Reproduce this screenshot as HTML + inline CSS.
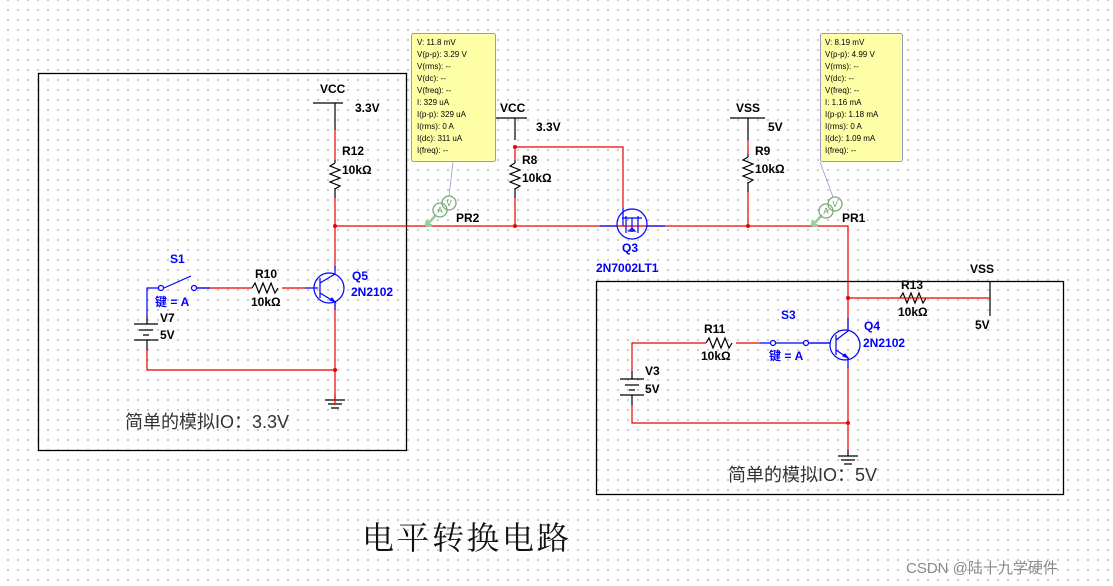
<!DOCTYPE html>
<html><head><meta charset="utf-8"><style>
html,body{margin:0;padding:0;background:#fff;}
body{width:1113px;height:586px;overflow:hidden;
background-image:radial-gradient(circle,#9a9a9a 0.7px,transparent 0.9px);background-size:10px 10px;background-position:3px 5px;}
svg{position:absolute;left:0;top:0;}
text{font-family:"Liberation Sans","Noto Sans CJK SC",sans-serif;}
</style></head><body>
<svg width="1113" height="586" viewBox="0 0 1113 586">
<g fill="none" stroke="#000" stroke-width="1.3">
<rect x="38.5" y="73.5" width="368" height="377"/>
<rect x="596.5" y="281.5" width="467" height="213"/>
</g>
<g stroke="#000" stroke-width="1.2" fill="none">
<path d="M313 103H343M335 103V130"/>
<path d="M496 118H527M515 118V140"/>
<path d="M730 118H765M748 118V140"/>
<path d="M990 281V316"/>
<path d="M335 163l-5 3 10 4-10 4 10 4-10 4 10 4-5 3M335 160v3M335 188v10"/>
<path d="M515 163l-5 3 10 4-10 4 10 4-10 4 10 4-5 3M515 160v3M515 188v10"/>
<path d="M748 157l-5 3 10 4-10 4 10 4-10 4 10 4-5 3M748 154v3M748 182v10"/>
<path d="M252 288l3-5 4 10 4-10 4 10 4-10 4 10 3-5"/>
<path d="M900 298l3-5 4 10 4-10 4 10 4-10 4 10 3-5"/>
<path d="M706 343l3-5 4 10 4-10 4 10 4-10 4 10 3-5"/>
<path d="M134 324H158M139 330H153M143 335H149M134 340H158M147 324V316M147 340V350"/>
<path d="M620 379H644M625 385H639M629 390H635M620 395H644M632 379V371M632 395V405"/>
<path d="M325 400H345M328 404H342M331 408H339M335 395V400"/>
<path d="M838 456H858M841 460H855M844 464H852M848 450V456"/>
</g>
<g stroke="#e00" stroke-width="1.2" fill="none">
<path d="M335 130V160M335 198V270"/>
<path d="M335 226H848V298H990"/>
<path d="M515 147V160M515 198V226M515 147H623V208"/>
<path d="M748 140V154M748 192V226"/>
<path d="M335 302V405M147 350V370H335"/>
<path d="M195 288H252M282 288H305"/>
<path d="M632 371V343H706M736 343H760"/>
<path d="M632 405V423H848M848 367V450"/>
<path d="M848 298V330"/>
</g>
<g fill="#e00"><circle cx="335" cy="226" r="2"/><circle cx="515" cy="226" r="2"/><circle cx="515" cy="147" r="2"/><circle cx="748" cy="226" r="2"/><circle cx="848" cy="298" r="2"/><circle cx="335" cy="370" r="2"/><circle cx="848" cy="423" r="2"/></g>
<g stroke="#00f" stroke-width="1.2" fill="none">
<path d="M147 316V288H158M164 288L191 276M197 288H210"/>
<circle cx="161" cy="288" r="2.5" fill="#fff"/><circle cx="194" cy="288" r="2.5" fill="#fff"/>
<circle cx="329" cy="288" r="15"/><path d="M318 288H305M320 278V298M320 283L335 274V266M320 293L335 302V310M330 300l5 2-3-4z"/>
<circle cx="632" cy="224" r="15"/><path d="M600 226H617M647 226H665M623 208V226M622 218H642M626 216V233M638 216V233M632 218V232M629 231H635M632 228l-3 3h6z"/>
<circle cx="845" cy="345" r="15"/><path d="M830 343H810M836 335V355M836 340L848 331V318M836 350L848 358V368M843 356l5 2-3-4z"/>
<path d="M760 343H770M776 343H803M809 343H830"/>
<circle cx="773" cy="343" r="2.5" fill="#fff"/><circle cx="806" cy="343" r="2.5" fill="#fff"/>
</g>
<g stroke="#7a7" stroke-width="1.3" fill="none">
<line x1="453" y1="162" x2="449" y2="196" stroke="#99c" stroke-width="0.8"/>
<line x1="820" y1="162" x2="833" y2="197" stroke="#99c" stroke-width="0.8"/>
<path d="M436 215L426 226M426 226l1-6M426 226l6-1" stroke="#9c9" stroke-width="2.5"/>
<circle cx="440" cy="210" r="7"/><circle cx="449" cy="203" r="7"/>
<path d="M822 215L812 226M812 226l1-6M812 226l6-1" stroke="#9c9" stroke-width="2.5"/>
<circle cx="826" cy="211" r="7"/><circle cx="835" cy="204" r="7"/>
</g>
<g font-size="8" fill="#595" text-anchor="middle"><text x="440" y="213">A</text><text x="449" y="206">V</text><text x="826" y="214">A</text><text x="835" y="207">V</text></g>
<rect x="411.5" y="33.5" width="84" height="128" rx="2" fill="#ffffa8" stroke="#99b"/>
<rect x="820.5" y="33.5" width="82" height="128" rx="2" fill="#ffffa8" stroke="#99b"/>
<g font-size="8" fill="#000">
<text x="417" y="45">V: 11.8 mV</text><text x="417" y="57">V(p-p): 3.29 V</text><text x="417" y="69">V(rms): --</text><text x="417" y="81">V(dc): --</text><text x="417" y="93">V(freq): --</text><text x="417" y="105">I: 329 uA</text><text x="417" y="117">I(p-p): 329 uA</text><text x="417" y="129">I(rms): 0 A</text><text x="417" y="141">I(dc): 311 uA</text><text x="417" y="153">I(freq): --</text>
<text x="825" y="45">V: 8.19 mV</text><text x="825" y="57">V(p-p): 4.99 V</text><text x="825" y="69">V(rms): --</text><text x="825" y="81">V(dc): --</text><text x="825" y="93">V(freq): --</text><text x="825" y="105">I: 1.16 mA</text><text x="825" y="117">I(p-p): 1.18 mA</text><text x="825" y="129">I(rms): 0 A</text><text x="825" y="141">I(dc): 1.09 mA</text><text x="825" y="153">I(freq): --</text>
</g>
<g font-size="12" fill="#000" font-weight="bold">
<text x="320" y="93">VCC</text><text x="355" y="112">3.3V</text>
<text x="342" y="155">R12</text><text x="342" y="174">10kΩ</text>
<text x="500" y="112">VCC</text><text x="536" y="131">3.3V</text>
<text x="522" y="164">R8</text><text x="522" y="182">10kΩ</text>
<text x="736" y="112">VSS</text><text x="768" y="131">5V</text>
<text x="755" y="155">R9</text><text x="755" y="173">10kΩ</text>
<text x="456" y="222">PR2</text><text x="842" y="222">PR1</text>
<text x="255" y="278">R10</text><text x="251" y="306">10kΩ</text>
<text x="160" y="322">V7</text><text x="160" y="339">5V</text>
<text x="970" y="273">VSS</text><text x="901" y="289">R13</text><text x="898" y="316">10kΩ</text><text x="975" y="329">5V</text>
<text x="704" y="333">R11</text><text x="701" y="360">10kΩ</text>
<text x="645" y="375">V3</text><text x="645" y="393">5V</text>
</g>
<g font-size="12" fill="#00f" font-weight="bold">
<text x="170" y="263">S1</text><text x="155" y="306">键 = A</text>
<text x="352" y="280">Q5</text><text x="351" y="296">2N2102</text>
<text x="622" y="252">Q3</text><text x="596" y="272">2N7002LT1</text>
<text x="781" y="319">S3</text><text x="769" y="360">键 = A</text>
<text x="864" y="330">Q4</text><text x="863" y="347">2N2102</text>
</g>
<g font-size="18" fill="#333">
<text x="125" y="428">简单的模拟IO：3.3V</text>
<text x="728" y="481">简单的模拟IO：5V</text>
</g>
<text x="362" y="549" font-size="32" fill="#111" style="font-family:'Noto Serif CJK SC',serif" letter-spacing="3">电平转换电路</text>
<text x="906" y="573" font-size="15" fill="#888">CSDN @陆十九学硬件</text>
</svg>
</body></html>
